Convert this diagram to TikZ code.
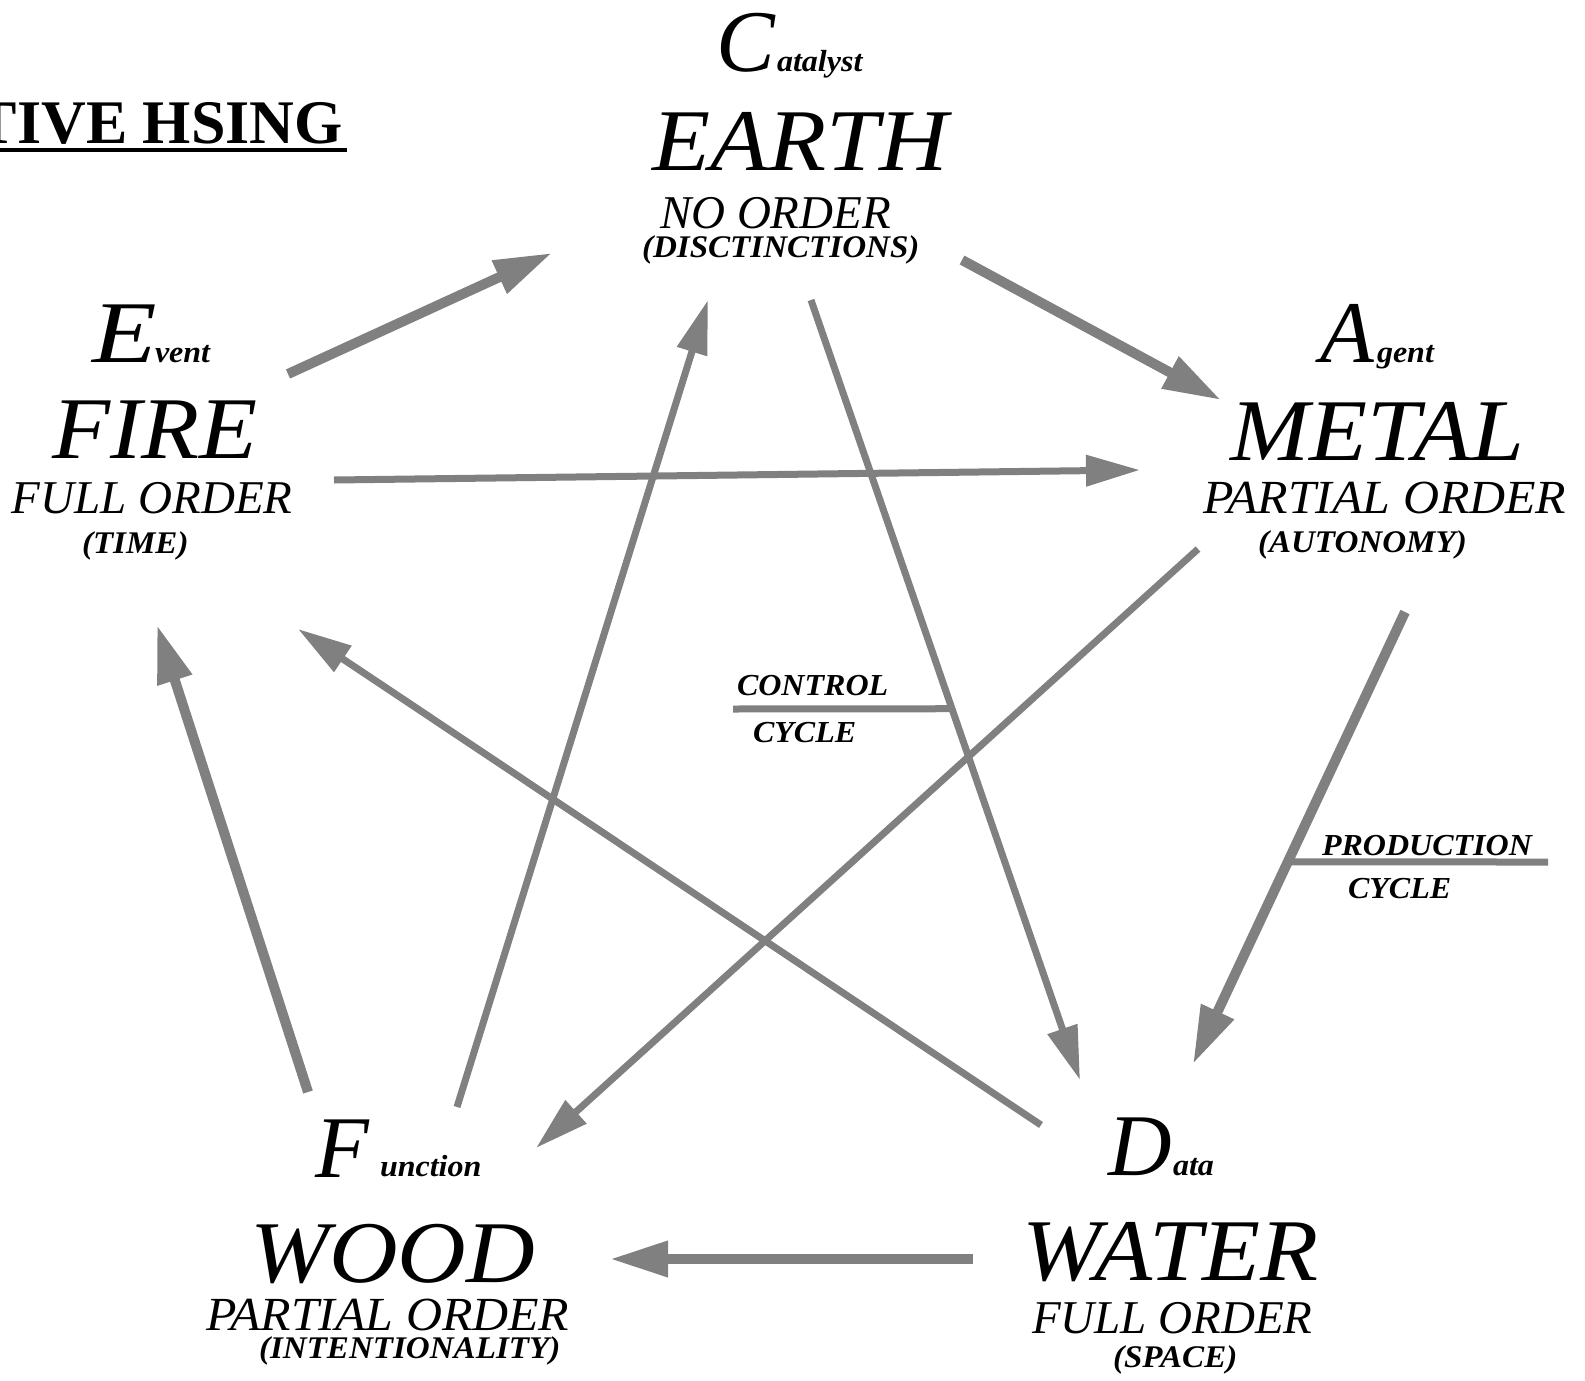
\documentclass[tikz,border=0pt]{standalone}
\usepackage{fontspec}
\setmainfont{Liberation Serif}
\newfontfamily\elemfont[FakeStretch=1.08]{Liberation Serif}
\newfontfamily\widefont[FakeStretch=1.05]{Liberation Serif}
\newfontfamily\efont[FakeStretch=1.2]{Liberation Serif}
\usetikzlibrary{arrows.meta,calc}
\definecolor{arrowgray}{HTML}{808080}
\tikzset{
  txt/.style={anchor=base west, inner sep=0pt, outer sep=0pt, text=black},
  initial/.style={txt, font=\fontsize{88}{88}\selectfont\itshape},
  element/.style={txt, font=\elemfont\fontsize{88}{88}\selectfont\itshape},
  orderline/.style={txt, font=\fontsize{47}{47}\selectfont\itshape},
  orderwide/.style={txt, font=\widefont\fontsize{47.5}{47.5}\selectfont\itshape},
  small/.style={txt, font=\widefont\fontsize{30.5}{30.5}\selectfont\bfseries\itshape},
  paren/.style={txt, font=\widefont\fontsize{31.5}{31.5}\selectfont\bfseries\itshape},
  prodarrow/.style={draw=arrowgray, line width=10pt, -{Triangle[length=58pt,width=34pt]}},
  ctrlarrow/.style={draw=arrowgray, line width=7pt, -{Triangle[length=54pt,width=30pt]}},
  labelline/.style={draw=arrowgray, line width=7pt}
}
\begin{document}
\begin{tikzpicture}[x=1pt,y=-1pt]
\useasboundingbox (0,0) rectangle (1585,1381);
% title
\node[anchor=base east, inner sep=0pt, font=\fontsize{62}{62}\selectfont\bfseries] (title) at (343,143) {TIVE HSING};
\draw[line width=4pt] (0,150) -- (347,150);
% Catalyst / Earth
\node[initial] (C) at (716,72) {C};
\node[small] (Csub) at (777,72) {atalyst};
\node[element] (earth) at (652,170) {EARTH};
\node[orderline] (earthord) at (660,228) {NO ORDER};
\node[paren] (earthpar) at (642,257) {(DISCTINCTIONS)};
% Event / Fire
\node[initial, font=\efont\fontsize{88}{88}\selectfont\itshape] (E) at (92,362) {E};
\node[small] (Esub) at (155,362) {vent};
\node[element] (fire) at (52,458) {FIRE};
\node[orderline] (fireord) at (12,513) {FULL ORDER};
\node[paren] (firepar) at (82,553) {(TIME)};
% Agent / Metal
\node[initial] (A) at (1320,362) {A};
\node[small] (Asub) at (1377,362) {gent};
\node[element] (metal) at (1230,460) {METAL};
\node[orderwide] (metalord) at (1203,513) {PARTIAL ORDER};
\node[paren] (metalpar) at (1258,552) {(AUTONOMY)};
% Data / Water
\node[initial] (D) at (1108,1175) {D};
\node[small] (Dsub) at (1173,1175) {ata};
\node[element] (water) at (1022,1280) {WATER};
\node[orderline] (waterord) at (1032,1333) {FULL ORDER};
\node[paren] (waterpar) at (1113,1367) {(SPACE)};
% Function / Wood
\node[initial] (F) at (315,1177) {F};
\node[small] (Fsub) at (380,1176) {unction};
\node[element] (wood) at (250,1282) {WOOD};
\node[orderwide] (woodord) at (206,1330) {PARTIAL ORDER};
\node[paren] (woodpar) at (259,1358) {(INTENTIONALITY)};
% arrow end points
\coordinate (fe-s) at (288,374);   \coordinate (fe-e) at (552,253);
\coordinate (em-s) at (962,260);   \coordinate (em-e) at (1221,400);
\coordinate (mw-s) at (1405,612);  \coordinate (mw-e) at (1193,1064);
\coordinate (ww-s) at (973,1259);  \coordinate (ww-e) at (610,1259);
\coordinate (wf-s) at (308,1092);  \coordinate (wf-e) at (157,625);
\coordinate (fm-s) at (334,480);   \coordinate (fm-e) at (1140,470);
\coordinate (mo-s) at (1198,549);  \coordinate (mo-e) at (536,1148);
\coordinate (oe-s) at (457,1107);  \coordinate (oe-e) at (708,300);
\coordinate (ea-s) at (811,300);   \coordinate (ea-e) at (1080,1080);
\coordinate (wa-s) at (1041,1125); \coordinate (wa-e) at (298,629);
% production cycle
\draw[prodarrow] (fe-s) -- (fe-e);
\draw[prodarrow] (em-s) -- (em-e);
\draw[prodarrow] (mw-s) -- (mw-e);
\draw[prodarrow] (ww-s) -- (ww-e);
\draw[prodarrow] (wf-s) -- (wf-e);
% control cycle
\draw[ctrlarrow] (fm-s) -- (fm-e);
\draw[ctrlarrow] (mo-s) -- (mo-e);
\draw[ctrlarrow] (oe-s) -- (oe-e);
\draw[ctrlarrow] (ea-s) -- (ea-e);
\draw[ctrlarrow] (wa-s) -- (wa-e);
% labels
\coordinate (ctrlmeet) at ($(ea-s)!0.524!(ea-e)$);
\coordinate (ctrlfree) at (733,709);
\draw[labelline] (ctrlfree) -- (ctrlmeet);
\node[small] (ctrl1) at (737,695) {CONTROL};
\node[small] (ctrl2) at (753,742) {CYCLE};
\coordinate (prodmeet) at ($(mw-s)!0.553!(mw-e)$);
\coordinate (prodfree) at (1548,862);
\draw[labelline] (prodmeet) -- (prodfree);
\node[small] (prod1) at (1322,855) {PRODUCTION};
\node[small] (prod2) at (1348,898) {CYCLE};
\end{tikzpicture}
\end{document}
